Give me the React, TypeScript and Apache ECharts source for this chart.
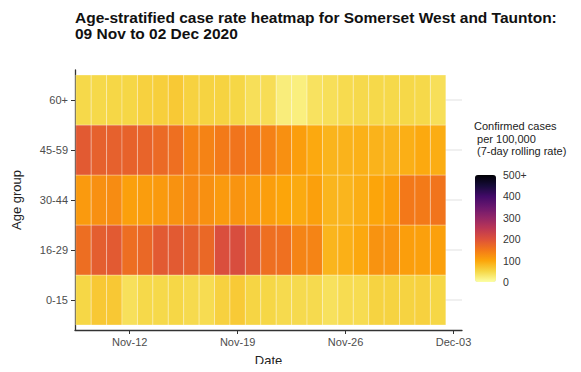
import React, { useEffect, useRef } from "react";
import * as echarts from "echarts";

const dayCount = 24;
const dates: string[] = Array.from({ length: dayCount }, (_, i) => {
  const d = new Date(Date.UTC(2020, 10, 9) + i * 86400000);
  return d.toISOString().slice(0, 10);
});

const ageGroups = ["0-15", "16-29", "30-44", "45-59", "60+"];

const rate0to15 = [50, 65, 65, 39, 48, 48, 50, 46, 44, 56, 63, 52, 50, 46, 46, 46, 38, 44, 44, 54, 54, 54, 56, 50];
const rate16to29 = [163, 183, 188, 163, 170, 188, 188, 181, 170, 205, 208, 188, 162, 160, 137, 137, 84, 89, 97, 120, 119, 108, 106, 106];
const rate30to44 = [112, 123, 128, 106, 109, 112, 121, 130, 123, 112, 119, 112, 108, 100, 95, 106, 84, 84, 91, 100, 108, 150, 148, 155];
const rate45to59 = [188, 180, 180, 178, 176, 168, 162, 138, 138, 148, 155, 148, 140, 123, 108, 96, 85, 86, 88, 86, 85, 90, 96, 92];
const rate60plus = [48, 48, 50, 50, 56, 58, 64, 55, 54, 54, 50, 40, 42, 22, 20, 36, 40, 45, 47, 48, 48, 49, 48, 40];

const rateRows = [rate0to15, rate16to29, rate30to44, rate45to59, rate60plus];

const tickDates = ["2020-11-12", "2020-11-19", "2020-11-26", "2020-12-03"];
const tickLabels = ["Nov-12", "Nov-19", "Nov-26", "Dec-03"];

const legendValues = [0, 100, 200, 300, 400, 500];
const legendLabels = ["0", "100", "200", "300", "400", "500+"];

const infernoReversed = [
  "#FCFFA4", "#F6D746", "#FCA50A", "#F37819", "#DD513A", "#BC3754",
  "#932667", "#6A176E", "#420A68", "#160B39", "#000004",
];

const FONT = "'Liberation Sans', Arial, sans-serif";

export default function App() {
  const ref = useRef<HTMLDivElement>(null);
  useEffect(() => {
    if (!ref.current) return;
    const chart = echarts.init(ref.current, undefined, { renderer: "svg" });

    const data: number[][] = [];
    rateRows.forEach((row, y) => row.forEach((v, x) => data.push([x, y, v])));

    const dayIndex = (s: string) =>
      Math.round((new Date(s + "T00:00:00Z").getTime() - new Date(dates[0] + "T00:00:00Z").getTime()) / 86400000);
    const tickIdx = tickDates.map(dayIndex);

    const barLeft = 475, barTop = 175, barW = 21, barH = 107, vmax = 500;
    const legendGraphics: any[] = [];
    legendValues.forEach((v, i) => {
      const y = barTop + barH - (v / vmax) * barH;
      legendGraphics.push({
        type: "text",
        x: barLeft + barW + 7,
        y,
        style: { text: legendLabels[i], font: `10.5px ${FONT}`, fill: "#333", verticalAlign: "middle" },
      });
      if (v > 0 && v < vmax) {
        legendGraphics.push({ type: "line", shape: { x1: barLeft, y1: y, x2: barLeft + 4, y2: y }, style: { stroke: "rgba(255,255,255,0.6)", lineWidth: 1 } });
        legendGraphics.push({ type: "line", shape: { x1: barLeft + barW - 4, y1: y, x2: barLeft + barW, y2: y }, style: { stroke: "rgba(255,255,255,0.6)", lineWidth: 1 } });
      }
    });

    chart.setOption({
      animation: false,
      textStyle: { fontFamily: FONT },
      title: {
        text: "Age-stratified case rate heatmap for Somerset West and Taunton:\n09 Nov to 02 Dec 2020",
        left: 75,
        top: 10,
        padding: 0,
        textStyle: { fontSize: 15.5, fontWeight: "bold", color: "#111", lineHeight: 15.5, fontFamily: FONT },
      },
      grid: { left: 75, right: 119, top: 70, bottom: 42 },
      xAxis: {
        type: "value",
        min: -0.55,
        max: 24.55,
        name: "Date",
        nameLocation: "middle",
        nameGap: 24,
        nameTextStyle: { fontSize: 13, color: "#222" },
        axisLine: { show: true, onZero: false, lineStyle: { color: "#333", width: 1.3 } },
        axisTick: { show: true, length: 4, customValues: tickIdx, lineStyle: { color: "#333" } },
        axisLabel: {
          customValues: tickIdx,
          formatter: (v: number) => tickLabels[tickIdx.indexOf(Math.round(v))] ?? "",
          fontSize: 11,
          color: "#4d4d4d",
          margin: 6,
        },
        splitLine: { show: false },
      },
      yAxis: {
        type: "value",
        min: -0.6,
        max: 4.6,
        name: "Age group",
        nameLocation: "middle",
        nameGap: 52,
        nameTextStyle: { fontSize: 13, color: "#222" },
        axisLine: { show: true, onZero: false, lineStyle: { color: "#333", width: 1.3 } },
        axisTick: { show: true, length: 4, customValues: [0, 1, 2, 3, 4], lineStyle: { color: "#333" } },
        axisLabel: {
          customValues: [0, 1, 2, 3, 4],
          formatter: (v: number) => ageGroups[Math.round(v)] ?? "",
          fontSize: 11,
          color: "#4d4d4d",
          margin: 7,
        },
        splitLine: { show: true, lineStyle: { color: "#ebebeb", width: 1.5 } },
      },
      visualMap: {
        type: "continuous",
        min: 0,
        max: vmax,
        dimension: 2,
        seriesIndex: 0,
        inRange: { color: infernoReversed },
        left: barLeft,
        top: barTop,
        itemWidth: barW,
        itemHeight: barH,
        padding: 0,
        calculable: false,
        hoverLink: false,
        showLabel: false,
      },
      graphic: [
        {
          type: "text",
          x: 474,
          y: 120,
          style: {
            text: "Confirmed cases\n per 100,000\n (7-day rolling rate)",
            font: `11px ${FONT}`,
            fill: "#222",
            lineHeight: 12.5,
          },
        },
        ...legendGraphics,
      ],
      series: [
        {
          type: "custom",
          data,
          encode: { x: 0, y: 1 },
          renderItem: (params: any, api: any) => {
            const x = api.value(0);
            const y = api.value(1);
            const p0 = api.coord([x - 0.5, y + 0.5]);
            const p1 = api.coord([x + 0.5, y - 0.5]);
            return {
              type: "rect",
              shape: { x: p0[0], y: p0[1], width: p1[0] - p0[0], height: p1[1] - p0[1] },
              style: { fill: api.visual("color"), stroke: "rgba(255,255,255,0.3)", lineWidth: 1 },
            };
          },
        },
      ],
    });
    return () => chart.dispose();
  }, []);
  return <div ref={ref} style={{ width: 581, height: 372, margin: -8 }} />;
}
